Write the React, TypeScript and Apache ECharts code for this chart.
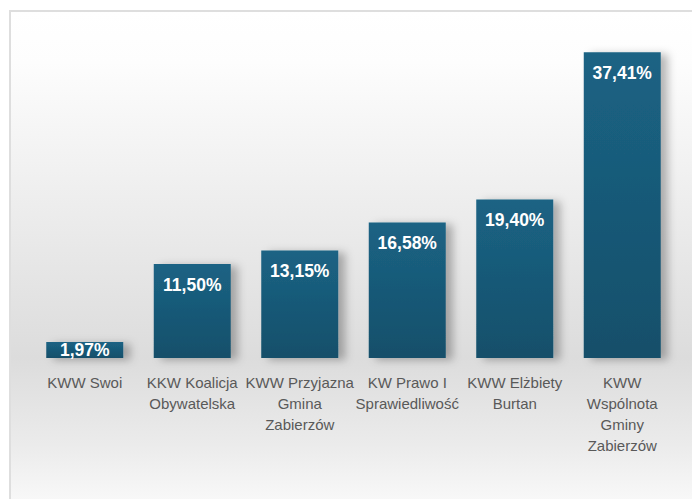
import React, { useEffect, useRef } from "react";
import * as echarts from "echarts";

const categories = [
  "KWW Swoi",
  "KKW Koalicja\nObywatelska",
  "KWW Przyjazna\nGmina\nZabierzów",
  "KW Prawo I\nSprawiedliwość",
  "KWW Elżbiety\nBurtan",
  "KWW\nWspólnota\nGminy\nZabierzów",
];
const values = [1.97, 11.5, 13.15, 16.58, 19.4, 37.41];
const valueLabels = ["1,97%", "11,50%", "13,15%", "16,58%", "19,40%", "37,41%"];

export default function App() {
  const ref = useRef<HTMLDivElement>(null);
  useEffect(() => {
    if (!ref.current) return;
    const chart = echarts.init(ref.current, undefined, { renderer: "svg" });
    const barColor = new echarts.graphic.LinearGradient(0, 0, 0, 1, [
      { offset: 0, color: "#1b6384" },
      { offset: 1, color: "#154f6a" },
    ]);
    chart.setOption({
      animation: false,
      graphic: [
        {
          type: "rect",
          z: -10,
          silent: true,
          shape: { x: 10, y: 11, width: 700, height: 510 },
          style: {
            fill: new echarts.graphic.LinearGradient(0, 0, 0, 1, [
              { offset: 0, color: "#ffffff" },
              { offset: 0.1, color: "#fdfdfd" },
              { offset: 0.68, color: "#dcdcdc" },
              { offset: 0.85, color: "#ebebeb" },
              { offset: 1, color: "#fdfdfd" },
            ]),
            stroke: "#dedede",
            lineWidth: 2,
          },
        },
      ],
      grid: { left: 31, right: 16, top: 31, bottom: 141, containLabel: false },
      xAxis: {
        type: "category",
        data: categories,
        axisLine: { show: false },
        axisTick: { show: false },
        axisLabel: {
          interval: 0,
          margin: 14,
          color: "#595959",
          fontFamily: "Liberation Sans, Arial, sans-serif",
          fontSize: 15,
          lineHeight: 21,
        },
      },
      yAxis: {
        type: "value",
        min: 0,
        max: 40,
        show: false,
        splitLine: { show: false },
      },
      series: [
        {
          type: "bar",
          barWidth: 77,
          data: values.map((v, i) => ({
            value: v,
            label: i === 0 ? { position: "inside" } : undefined,
          })),
          itemStyle: {
            color: barColor,
            shadowColor: "rgba(0,0,0,0.28)",
            shadowBlur: 8,
            shadowOffsetX: 7,
            shadowOffsetY: 2,
          },
          label: {
            show: true,
            position: "insideTop",
            distance: 12,
            color: "#ffffff",
            fontWeight: "bold",
            fontSize: 17.5,
            fontFamily: "Liberation Sans, Arial, sans-serif",
            formatter: (p: any) => valueLabels[p.dataIndex],
          },
        },
      ],
    });
    return () => chart.dispose();
  }, []);
  return (
    <div
      ref={ref}
      style={{ position: "absolute", left: 0, top: 0, width: 692, height: 499 }}
    />
  );
}
